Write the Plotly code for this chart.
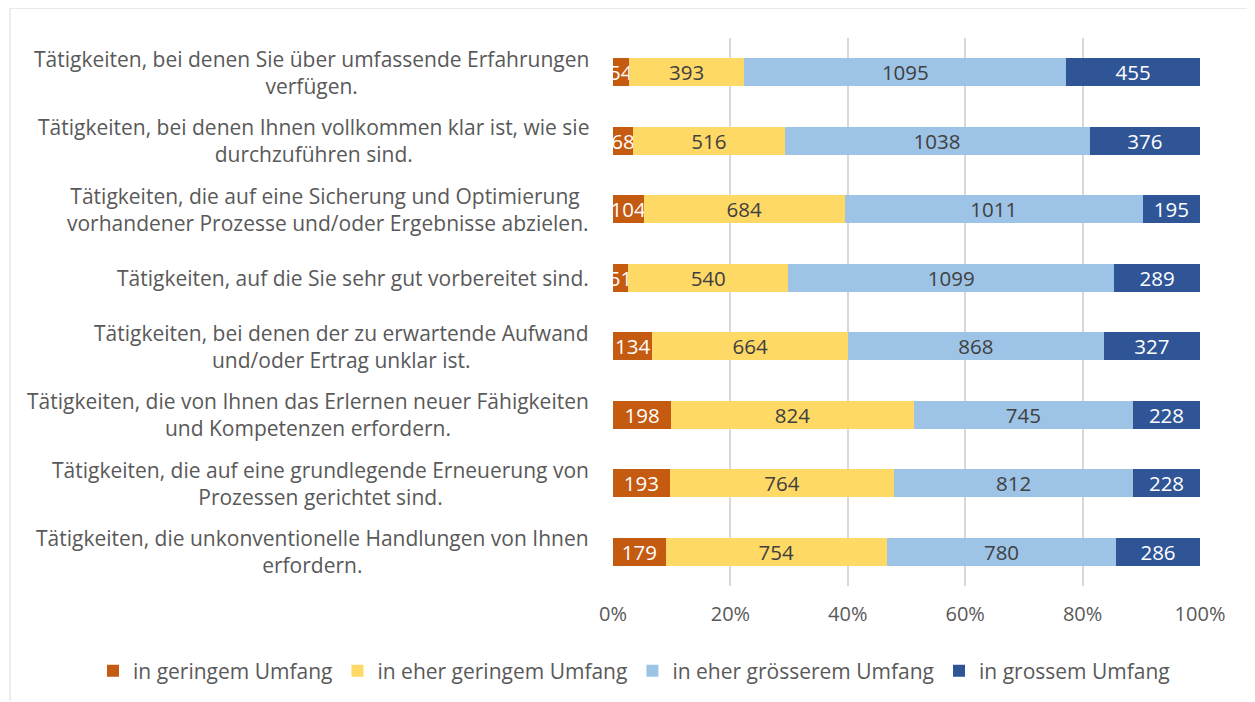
import plotly.graph_objects as go

# Categories, top to bottom as shown in the chart
categories = [
    "Tätigkeiten, bei denen Sie über umfassende Erfahrungen<br>verfügen.",
    "Tätigkeiten, bei denen Ihnen vollkommen klar ist, wie sie<br>durchzuführen sind.",
    "Tätigkeiten, die auf eine Sicherung und Optimierung <br>vorhandener Prozesse und/oder Ergebnisse abzielen.",
    "Tätigkeiten, auf die Sie sehr gut vorbereitet sind.",
    "Tätigkeiten, bei denen der zu erwartende Aufwand<br>und/oder Ertrag unklar ist.",
    "Tätigkeiten, die von Ihnen das Erlernen neuer Fähigkeiten<br>und Kompetenzen erfordern.",
    "Tätigkeiten, die auf eine grundlegende Erneuerung von<br>Prozessen gerichtet sind.",
    "Tätigkeiten, die unkonventionelle Handlungen von Ihnen<br>erfordern.",
]

series_names = [
    "in geringem Umfang",
    "in eher geringem Umfang",
    "in eher grösserem Umfang",
    "in grossem Umfang",
]

geringem = [54, 68, 104, 51, 134, 198, 193, 179]
eher_geringem = [393, 516, 684, 540, 664, 824, 764, 754]
eher_groesserem = [1095, 1038, 1011, 1099, 868, 745, 812, 780]
grossem = [455, 376, 195, 289, 327, 228, 228, 286]

x_ticks = [0, 20, 40, 60, 80, 100]
x_labels = ["0%", "20%", "40%", "60%", "80%", "100%"]

colors = ["#C55A11", "#FFD966", "#9DC3E6", "#2F5597"]
text_colors = ["white", "#404040", "#404040", "white"]

FONT = "Open Sans, Noto Sans, sans-serif"
# page body adds an 8px offset, so the figure is 8px smaller
W, H = 1247, 694
M_L, M_R, M_T, M_B = 605, 55, 30, 115
pw = W - M_L - M_R
ph = H - M_T - M_B

fig = go.Figure()
for name, vals, col, tcol in zip(series_names,
                                 [geringem, eher_geringem, eher_groesserem, grossem],
                                 colors, text_colors):
    fig.add_trace(go.Bar(
        y=categories,
        x=vals,
        name=name,
        orientation="h",
        marker=dict(color=col, line=dict(width=0)),
        text=vals,
        texttemplate="%{text}",
        textposition="inside",
        insidetextanchor="middle",
        textfont=dict(color=tcol, size=20.5, family=FONT),
        constraintext="none",
        hoverinfo="x+name",
    ))

# centred multi-line category labels
for cat in categories:
    fig.add_annotation(
        x=-22 / pw, xref="paper", xanchor="right",
        y=cat, yref="y", yanchor="middle",
        text=cat, showarrow=False, align="center",
        font=dict(size=21, color="#595959", family=FONT),
    )

# light outer frame of the chart area
fig.add_shape(type="line", xref="paper", yref="paper",
              x0=(2 - M_L) / pw, x1=(W - M_L) / pw,
              y0=(H - M_B) / ph, y1=(H - M_B) / ph,
              line=dict(color="#D9D9D9", width=1))
fig.add_shape(type="line", xref="paper", yref="paper",
              x0=(2 - M_L) / pw, x1=(2 - M_L) / pw,
              y0=(H - M_B) / ph, y1=-M_B / ph,
              line=dict(color="#D9D9D9", width=1))

fig.update_layout(
    width=W, height=H,
    barmode="stack",
    barnorm="percent",
    bargap=0.59,
    plot_bgcolor="white",
    paper_bgcolor="white",
    margin=dict(l=M_L, r=M_R, t=M_T, b=M_B),
    font=dict(family=FONT, size=19, color="#595959"),
    uniformtext=dict(minsize=20.5, mode="show"),
    showlegend=True,
    legend=dict(
        orientation="h", x=(85 - M_L) / pw, xanchor="left",
        y=-(663 - (H - M_B)) / ph, yanchor="middle",
        font=dict(size=21, color="#595959", family=FONT),
        traceorder="normal", itemwidth=30,
    ),
)
fig.update_xaxes(
    range=[0, 100], tickvals=x_ticks, ticktext=x_labels,
    showgrid=True, gridcolor="#D9D9D9", gridwidth=1.5,
    zeroline=False, showline=False, ticks="",
    ticklabelstandoff=14,
    tickfont=dict(size=20, color="#595959", family=FONT),
)
fig.update_yaxes(
    autorange="reversed", showticklabels=False, showgrid=False,
    zeroline=False, showline=False, ticks="",
)

fig.write_html("out.html")
